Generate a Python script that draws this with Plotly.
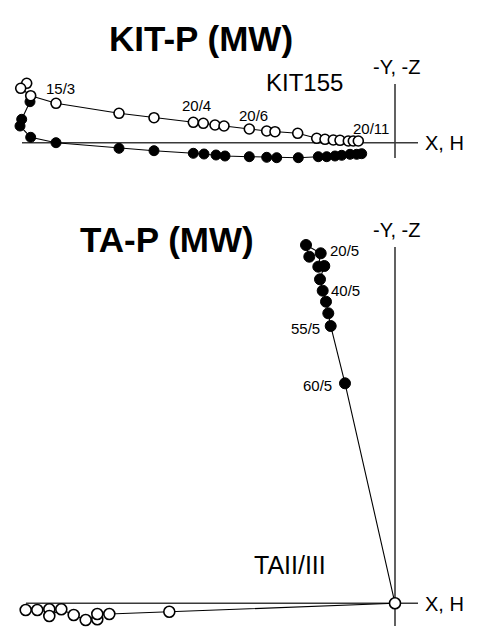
import plotly.graph_objects as go

# ---------------- data (arbitrary units, origin of each diagram at 0,0) -------------
kit_open_x = [-36.83, -37.43, -36.43, -33.9, -27.6, -24.1, -20.17, -19.17, -18.0, -17.1,
              -14.57, -12.83, -12.0, -9.73, -7.83, -7.0, -6.17, -5.5, -4.67, -4.17, -3.67]
kit_open_y = [5.94, 5.44, 4.70, 3.94, 2.94, 2.50, 2.04, 1.94, 1.77, 1.67,
              1.37, 1.17, 1.10, 0.94, 0.44, 0.34, 0.27, 0.24, 0.17, 0.17, 0.17]
kit_fill_x = [-36.5, -37.33, -37.5, -36.43, -33.9, -27.6, -24.1, -20.17, -19.1, -17.9, -17.0,
              -14.57, -12.83, -11.83, -9.67, -7.67, -6.83, -6.0, -5.33, -4.5, -3.83, -3.33]
kit_fill_y = [4.10, 2.34, 1.67, 0.54, 0.0, -0.56, -0.80, -1.06, -1.13, -1.23, -1.33,
              -1.40, -1.46, -1.50, -1.50, -1.40, -1.40, -1.33, -1.26, -1.16, -1.16, -1.10]

ta_fill_x = [-8.57, -8.9, -7.43, -7.67, -7.07, -7.5, -7.23, -6.9, -6.67, -6.43, -5.0, 0.0]
ta_fill_y = [34.66, 35.83, 35.0, 33.66, 33.73, 32.4, 31.26, 30.16, 29.0, 27.73, 22.0, 0.0]
ta_open_x = [-36.93, -35.77, -34.57, -34.57, -33.37, -32.13, -30.93, -29.77, -29.77, -28.57, -22.57, 0.0]
ta_open_y = [-0.67, -0.67, -0.6, -1.27, -0.6, -1.17, -1.67, -1.6, -1.07, -1.07, -0.84, 0.0]

kit_labels = ["15/3", "20/4", "20/6", "20/11"]
kit_label_x = [-33.5, -19.9, -14.2, -2.4]
kit_label_y = [5.47, 3.77, 2.77, 1.47]
ta_labels = ["20/5", "40/5", "55/5", "60/5"]
ta_label_x = [-5.1, -5.0, -9.0, -7.75]
ta_label_y = [35.28, 31.33, 27.53, 21.83]

# axis extents (data units)
kit_axis_x = [-37.3, 2.3]
kit_axis_y = [-1.53, 5.87]
ta_axis_x = [-36.9, 2.3]
ta_axis_y = [-2.27, 35.63]

FONT = "Liberation Sans, Arial, sans-serif"
AX = "#3a3a3a"

fig = go.Figure()

def add_axes(xa, ya, xr, yr):
    fig.add_trace(go.Scatter(x=xr, y=[0, 0], mode="lines", line=dict(color=AX, width=1.6),
                             xaxis=xa, yaxis=ya, hoverinfo="skip", showlegend=False))
    fig.add_trace(go.Scatter(x=[0, 0], y=yr, mode="lines", line=dict(color=AX, width=1.6),
                             xaxis=xa, yaxis=ya, hoverinfo="skip", showlegend=False))

add_axes("x", "y", kit_axis_x, kit_axis_y)
add_axes("x2", "y2", ta_axis_x, ta_axis_y)

# top diagram
fig.add_trace(go.Scatter(x=kit_fill_x, y=kit_fill_y, mode="lines+markers",
                         line=dict(color="black", width=1.1),
                         marker=dict(symbol="circle", size=10, color="black",
                                     line=dict(color="black", width=1)),
                         cliponaxis=False, xaxis="x", yaxis="y", showlegend=False))
fig.add_trace(go.Scatter(x=kit_open_x, y=kit_open_y, mode="lines+markers",
                         line=dict(color="black", width=1.1),
                         marker=dict(symbol="circle", size=10, color="white",
                                     line=dict(color="black", width=1.6)),
                         cliponaxis=False, xaxis="x", yaxis="y", showlegend=False))

# bottom diagram
fig.add_trace(go.Scatter(x=ta_fill_x, y=ta_fill_y, mode="lines",
                         line=dict(color="black", width=1.1),
                         cliponaxis=False, xaxis="x2", yaxis="y2", showlegend=False))
fig.add_trace(go.Scatter(x=ta_fill_x[:-1], y=ta_fill_y[:-1], mode="markers",
                         marker=dict(symbol="circle", size=11, color="black",
                                     line=dict(color="black", width=1)),
                         cliponaxis=False, xaxis="x2", yaxis="y2", showlegend=False))
fig.add_trace(go.Scatter(x=ta_open_x, y=ta_open_y, mode="lines+markers",
                         line=dict(color="black", width=1.1),
                         marker=dict(symbol="circle", size=11, color="white",
                                     line=dict(color="black", width=1.6)),
                         cliponaxis=False, xaxis="x2", yaxis="y2", showlegend=False))

ann = []
for t, x, y in zip(kit_labels, kit_label_x, kit_label_y):
    ann.append(dict(text=t, x=x, y=y, xref="x", yref="y", showarrow=False,
                    font=dict(size=15, color="black", family=FONT)))
for t, x, y in zip(ta_labels, ta_label_x, ta_label_y):
    ann.append(dict(text=t, x=x, y=y, xref="x2", yref="y2", showarrow=False,
                    font=dict(size=15, color="black", family=FONT)))

def pannot(text, px, py, size, bold=False):
    ann.append(dict(text=("<b>%s</b>" % text) if bold else text,
                    x=px / 477, y=1 - py / 630, xref="paper", yref="paper",
                    showarrow=False, xanchor="center", yanchor="middle",
                    font=dict(size=size, color="black", family=FONT)))

pannot("KIT-P (MW)", 201, 38, 35, bold=True)
pannot("TA-P (MW)", 167, 239, 35, bold=True)
pannot("KIT155", 304, 83, 24)
pannot("TAII/III", 290, 565, 25)
pannot("-Y, -Z", 396, 67, 20)
pannot("X, H", 444, 143, 20)
pannot("-Y, -Z", 396, 230, 20)
pannot("X, H", 444, 604, 20)

hidden = dict(visible=False, showgrid=False, zeroline=False, showticklabels=False)
fig.update_layout(
    width=477, height=630, autosize=False,
    margin=dict(l=0, r=0, t=0, b=0),
    paper_bgcolor="white", plot_bgcolor="white",
    showlegend=False,
    xaxis=dict(domain=[0, 1], range=[-39.5, 8.2], **hidden),
    yaxis=dict(domain=[1 - 175 / 630, 1 - 40 / 630], range=[-3.23, 10.27], **hidden),
    xaxis2=dict(domain=[0, 1], range=[-39.5, 8.2], anchor="y2", **hidden),
    yaxis2=dict(domain=[0, 1 - 215 / 630], range=[-2.67, 38.83], anchor="x2", **hidden),
    annotations=ann,
)

fig.write_html("out.html")
